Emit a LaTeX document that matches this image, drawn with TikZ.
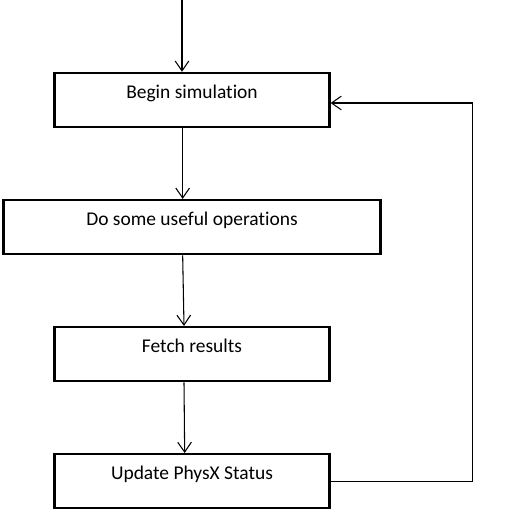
\documentclass[tikz,border=0pt]{standalone}
\usepackage{fontspec}
\setmainfont{Carlito}[Ligatures=NoCommon]
\usetikzlibrary{arrows.meta,positioning}
\tikzset{
  simstep/.style={
    rectangle,
    draw=black,
    line width=1.8pt,
    minimum width=206pt,
    minimum height=40.5pt,
    text height=0pt,
    text depth=2.2pt,
    font=\fontsize{14.6}{17}\selectfont
  },
  simwide/.style={simstep, minimum width=283pt},
  simarrow/.style={-{Straight Barb[length=2.6mm,width=3.6mm]}, line width=0.8pt, draw=black}
}
\begin{document}
\begin{tikzpicture}[x=0.75pt, y=-0.75pt, node distance=53pt]
\useasboundingbox (0,0) rectangle (518,529);
\coordinate (start) at (182,0);
\node[simstep] (begin) at (192,100) {Begin simulation};
\node[simwide, below=of begin] (useful) {Do some useful operations};
\node[simstep, below=of useful] (fetch) {Fetch results};
\node[simstep, below=of fetch] (update) {Update PhysX Status};
\draw[simarrow] (start) -- ([xshift=-7.5pt]begin.north);
\draw[simarrow] ([xshift=-7pt]begin.south) -- ([xshift=-7pt]useful.north);
\draw[simarrow] ([xshift=-7pt]useful.south) -- ([xshift=-6pt]fetch.north);
\draw[simarrow] ([xshift=-6pt]fetch.south) -- ([xshift=-5.5pt]update.north);
\draw[simarrow] (update.east) -- ++(142,0) |- ([yshift=-2.25pt]begin.east);
\end{tikzpicture}
\end{document}
